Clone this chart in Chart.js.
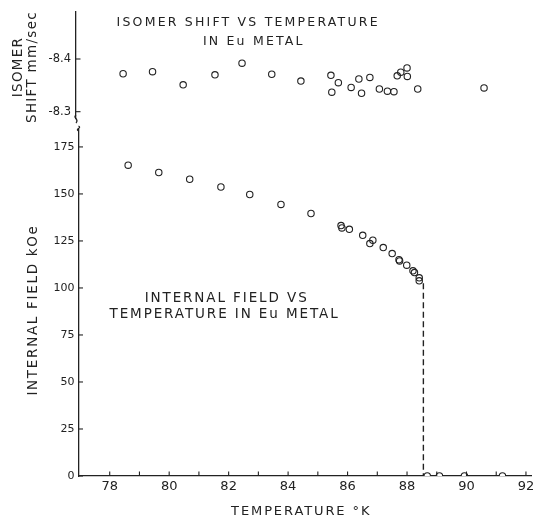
<!DOCTYPE html>
<html lang="en">
<head>
    <meta charset="UTF-8">
    <title>Isomer shift and internal field vs temperature in Eu metal</title>
    <script src="https://cdn.jsdelivr.net/npm/chart.js"></script>
    <style>
        html, body { margin: 0; padding: 0; background: #fff; }
        #wrap { position: relative; width: 537px; height: 519px; overflow: hidden; }
        #wrap canvas { position: absolute; left: 0; top: 0; }
    </style>
</head>
<body>
<div id="wrap">
    <canvas id="fieldChart" width="537" height="519"></canvas>
    <canvas id="shiftChart" width="537" height="160"></canvas>
</div>
<script>
// values
const shiftTemp = [78.45, 79.44, 80.47, 81.54, 82.45, 83.45, 84.43, 85.44, 85.47, 85.69, 86.12, 86.38,
                   86.47, 86.75, 87.07, 87.34, 87.56, 87.67, 87.79, 88.00, 88.01, 88.36, 90.59];
const shiftMmSec = [-8.372, -8.376, -8.351, -8.370, -8.392, -8.371, -8.358, -8.369, -8.337, -8.355, -8.346, -8.362,
                    -8.335, -8.365, -8.343, -8.339, -8.338, -8.368, -8.375, -8.383, -8.367, -8.343, -8.345];

const fieldTemp = [78.62, 79.65, 80.69, 81.74, 82.71, 83.76, 84.77, 85.78, 85.81, 86.06, 86.51,
                   86.75, 86.85, 87.20, 87.50, 87.73, 87.75, 87.99, 88.20, 88.25, 88.41, 88.41];
const fieldKOe = [165.3, 161.4, 157.8, 153.7, 149.7, 144.4, 139.6, 133.2, 131.9, 131.2, 128.0,
                  123.6, 125.4, 121.5, 118.3, 115.0, 114.4, 112.1, 109.1, 108.2, 105.4, 103.8];

const paraTemp = [88.68, 89.09, 89.93, 91.21];
const paraKOe = [0, 0, 0, 0];

const curieTemp = [88.55, 88.55];
const curieKOe = [102.5, 0];

const tempTicks = [78, 79, 80, 81, 82, 83, 84, 85, 86, 87, 88, 89, 90, 91, 92];
const fieldTicks = [0, 25, 50, 75, 100, 125, 150, 175];
const shiftTicks = [-8.4, -8.3];

const ink = '#222';
const family = 'DejaVu Sans';
Chart.defaults.font.family = family;
Chart.defaults.color = ink;

const pts = (xs, ys) => xs.map((x, i) => ({ x: x, y: ys[i] }));

// letter-spaced axis titles, inward tick marks, axis breaks and the two captions
const sketch = {
    id: 'sketch',
    beforeDraw(chart, args, opts) {
        Object.values(chart.scales).forEach(s => {
            if (s._sketchTitle) return;
            s._sketchTitle = true;
            const draw = s.drawTitle;
            s.drawTitle = function () {
                const t = (opts.titles || {})[this.id] || {};
                const ctx = this.ctx;
                ctx.save();
                ctx.translate(t.dx || 0, t.dy || 0);
                ctx.letterSpacing = (t.spacing || 0) + 'px';
                draw.call(this);
                ctx.restore();
            };
        });
    },
    afterDraw(chart, args, opts) {
        const ctx = chart.ctx;
        const area = chart.chartArea;
        ctx.save();
        ctx.strokeStyle = ink;
        ctx.lineWidth = 1.1;
        Object.values(chart.scales).forEach(s => {
            if (!s.options.display) return;
            s.ticks.forEach(t => {
                const p = s.getPixelForValue(t.value);
                ctx.beginPath();
                if (s.isHorizontal()) {
                    ctx.moveTo(p, s.top);
                    ctx.lineTo(p, s.top - 4.5);
                } else {
                    ctx.moveTo(s.right, p);
                    ctx.lineTo(s.right + 4.5, p);
                }
                ctx.stroke();
            });
        });

        const x0 = area.left;
        ctx.lineWidth = 1.2;
        ctx.beginPath();
        if (opts.breakMark === 'bottom') {
            const y0 = area.bottom;
            ctx.moveTo(x0, y0 - 3);
            ctx.bezierCurveTo(x0 - 4, y0, x0 + 4, y0 + 1, x0, y0 + 5);
        } else if (opts.breakMark === 'top') {
            const y0 = area.top;
            ctx.moveTo(x0, y0 + 1);
            ctx.bezierCurveTo(x0 - 4, y0 - 1, x0 + 4, y0 - 2, x0, y0 - 4);
        }
        ctx.stroke();

        (opts.notes || []).forEach(n => {
            ctx.font = n.size + 'px ' + family;
            ctx.letterSpacing = n.spacing + 'px';
            ctx.fillStyle = ink;
            ctx.textAlign = 'center';
            ctx.textBaseline = 'middle';
            ctx.fillText(n.text,
                chart.scales.x.getPixelForValue(n.x) + n.spacing / 2,
                chart.scales.y.getPixelForValue(n.y));
        });
        ctx.restore();
    }
};

new Chart(document.getElementById('fieldChart'), {
    type: 'scatter',
    data: {
        datasets: [
            { label: 'Internal field', data: pts(fieldTemp, fieldKOe), pointRadius: 3.2, borderWidth: 1.1,
              borderColor: ink, backgroundColor: 'rgba(255,255,255,0)' },
            { label: 'Above Tc', data: pts(paraTemp, paraKOe), pointRadius: 3.2, borderWidth: 1.1,
              borderColor: ink, backgroundColor: '#fff' },
            { label: 'Tc', data: pts(curieTemp, curieKOe), showLine: true, pointRadius: 0,
              borderColor: ink, borderWidth: 1.4, borderDash: [6, 3.5] }
        ]
    },
    options: {
        responsive: false,
        animation: false,
        events: [],
        layout: { padding: { top: 130, right: 4, bottom: 0, left: 0 } },
        plugins: {
            legend: { display: false },
            tooltip: { enabled: false },
            sketch: {
                breakMark: 'top',
                titles: { x: { dx: -4, spacing: 1.9 }, y: { dy: 7, spacing: 1.7 } },
                notes: [
                    { text: 'INTERNAL FIELD VS', x: 81.9, y: 94.5, size: 13.5, spacing: 1.9 },
                    { text: 'TEMPERATURE IN Eu METAL', x: 81.83, y: 85.9, size: 13.5, spacing: 1.9 }
                ]
            }
        },
        scales: {
            x: {
                type: 'linear', min: 76.95, max: 92.2,
                afterFit: s => { s.height = 43; },
                afterBuildTicks: s => { s.ticks = tempTicks.map(v => ({ value: v })); },
                grid: { display: false, drawTicks: false },
                border: { color: ink, width: 1.3 },
                ticks: { padding: 0, autoSkip: false, maxRotation: 0, color: ink,
                         font: { size: 13, lineHeight: 1.7 },
                         callback: v => (v % 2 === 0 ? String(v) : '') },
                title: { display: true, text: 'TEMPERATURE °K', color: ink, font: { size: 13 }, padding: 0 }
            },
            y: {
                type: 'linear', min: 0, max: 184,
                afterFit: s => { s.width = 78.5; },
                afterBuildTicks: s => { s.ticks = fieldTicks.map(v => ({ value: v })); },
                grid: { display: false, drawTicks: false },
                border: { color: ink, width: 1.3 },
                ticks: { padding: 4, color: ink, font: { size: 11 } },
                title: { display: true, text: 'INTERNAL FIELD kOe', color: ink, font: { size: 13.5 },
                         padding: { top: 25, bottom: 0 } }
            }
        }
    },
    plugins: [sketch]
});

new Chart(document.getElementById('shiftChart'), {
    type: 'scatter',
    data: {
        datasets: [
            { label: 'Isomer shift', data: pts(shiftTemp, shiftMmSec), pointRadius: 3.2, borderWidth: 1.1,
              borderColor: ink, backgroundColor: 'rgba(255,255,255,0)' }
        ]
    },
    options: {
        responsive: false,
        animation: false,
        events: [],
        layout: { padding: { top: 12, right: 4, bottom: 42, left: 0 } },
        plugins: {
            legend: { display: false },
            tooltip: { enabled: false },
            sketch: {
                breakMark: 'bottom',
                titles: { y: { dy: 2, spacing: 1.3 } },
                notes: [
                    { text: 'ISOMER SHIFT VS TEMPERATURE', x: 82.62, y: -8.4689, size: 12.5, spacing: 2.2 },
                    { text: 'IN Eu METAL', x: 82.81, y: -8.4336, size: 12.5, spacing: 2.2 }
                ]
            }
        },
        scales: {
            x: { type: 'linear', display: false, min: 76.866, max: 92.2 },
            y: {
                type: 'linear', reverse: true, min: -8.4892, max: -8.288,
                afterFit: s => { s.width = 76; },
                afterBuildTicks: s => { s.ticks = shiftTicks.map(v => ({ value: v })); },
                grid: { display: false, drawTicks: false },
                border: { color: ink, width: 1.3 },
                ticks: { padding: 5, color: ink, font: { size: 11.5, lineHeight: 1 },
                         callback: v => v.toFixed(1) },
                title: { display: true, text: ['ISOMER', 'SHIFT mm/sec'], color: ink,
                         font: { size: 13.5, lineHeight: 1.05 }, padding: { top: 11, bottom: 0 } }
            }
        }
    },
    plugins: [sketch]
});
</script>
</body>
</html>
